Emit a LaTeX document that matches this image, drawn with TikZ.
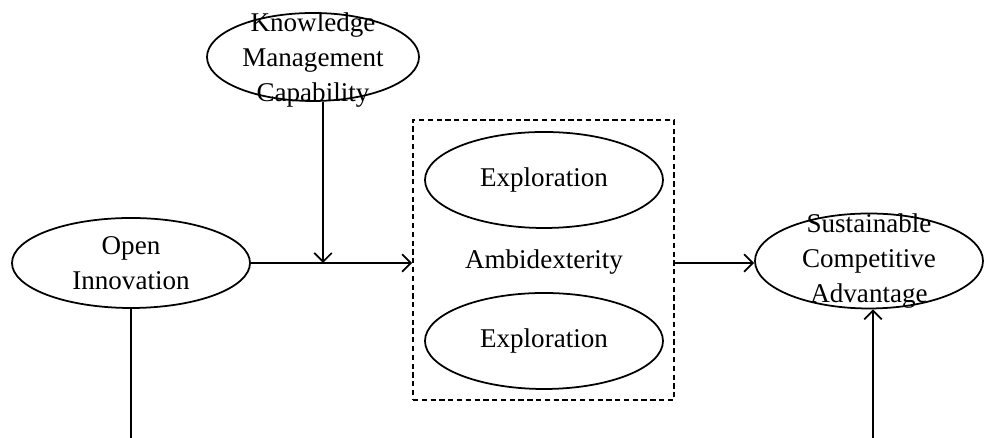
\documentclass[tikz,border=0pt]{standalone}
\usepackage{fontspec}
\setmainfont{Liberation Serif}
\usetikzlibrary{shapes.geometric}
\usetikzlibrary{arrows.meta}

\begin{document}
\begin{tikzpicture}[
  oval/.style={draw=black,ellipse,line width=1pt,inner sep=0pt},
  label text/.style={align=center,font=\fontsize{15.4pt}{19.7pt}\selectfont},
  link/.style={draw=black,line width=1pt,-{Straight Barb[length=5pt,width=10pt,line width=1pt]}}
]
\useasboundingbox (0,0) rectangle (19.68,8.76);

% Knowledge Management Capability
\node[oval,minimum width=4.24cm,minimum height=1.76cm] (kmc) at (6.26,7.62) {};
\node[label text] (kmctext) at ([yshift=-0.06cm]kmc) {Knowledge\\Management\\Capability};

% Open Innovation
\node[oval,minimum width=4.76cm,minimum height=1.8cm] (oi) at (2.62,3.50) {};
\node[label text] (oitext) at (oi) {Open\\Innovation};

% Ambidexterity box
\node[draw=black,line width=0.9pt,dash pattern=on 3pt off 2pt,minimum width=5.22cm,minimum height=5.6cm] (ambi) at (10.87,3.56) {};
\node[oval,minimum width=4.76cm,minimum height=1.92cm] (explore) at (10.88,5.16) {};
\node[label text] (exploretext) at (explore) {Exploration};
\node[label text] (ambitext) at (10.88,3.52) {Ambidexterity};
\node[oval,minimum width=4.76cm,minimum height=1.92cm] (exploit) at (10.88,1.94) {};
\node[label text] (exploittext) at (exploit) {Exploration};

% Sustainable Competitive Advantage
\node[oval,minimum width=4.56cm,minimum height=1.9cm] (sca) at (17.38,3.54) {};
\node[label text] (scatext) at (sca) {Sustainable\\Competitive\\Advantage};

% Connectors
\coordinate (kmcjoin) at (6.46,3.50);
\coordinate (oiend) at (2.62,0);
\coordinate (scaend) at (17.46,0);

\draw[link] (oi.east) -- (oi.east -| ambi.west);
\draw[link] (kmcjoin |- kmc.south) -- (kmcjoin);
\draw[link] (ambi.east |- oi.east) -- (sca.west |- oi.east);
\draw[line width=1pt] (oi.south) -- (oiend);
\draw[link] (scaend) -- (scaend |- sca.south);

\end{tikzpicture}
\end{document}
